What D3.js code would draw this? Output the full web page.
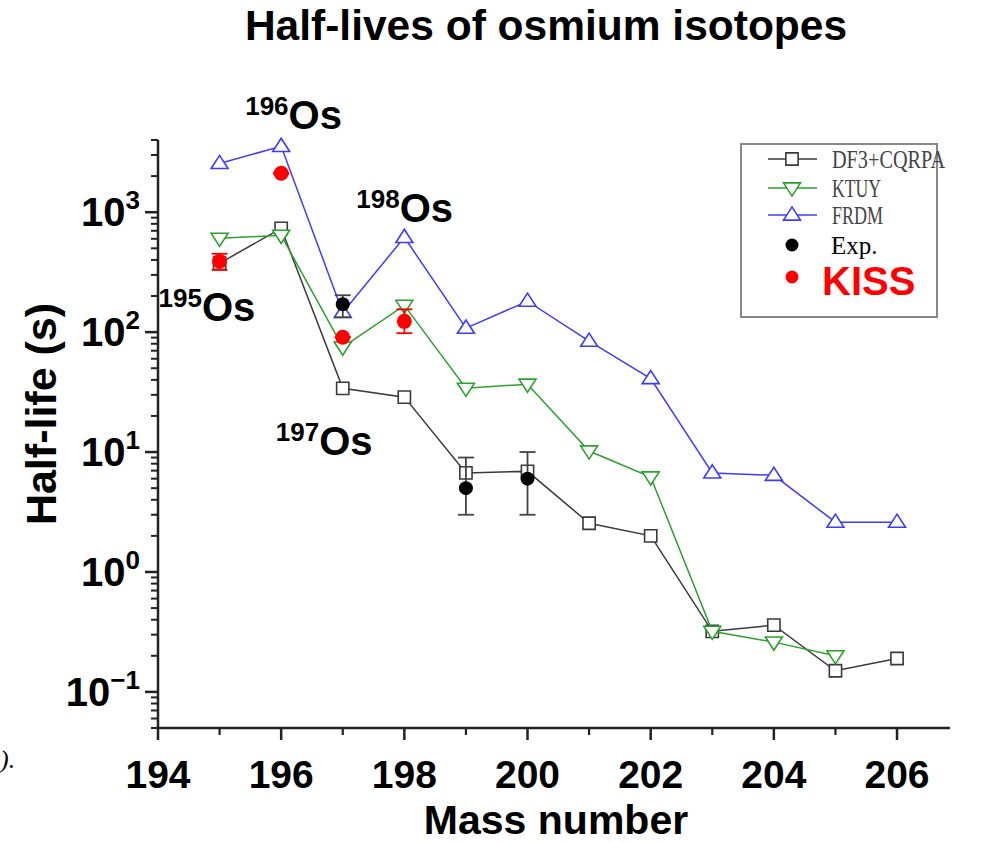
<!DOCTYPE html>
<html>
<head>
<meta charset="utf-8">
<script src="https://cdn.jsdelivr.net/npm/d3@7"></script>
<style>
  html, body { margin: 0; padding: 0; background: #fff; }
  svg { font-family: "Liberation Sans", Arial, sans-serif; }
</style>
</head>
<body>
<svg id="chart" width="983" height="843"></svg>
<script>
// Half-lives of osmium isotopes: model predictions vs. measurements
const massNumbers = [195, 196, 197, 198, 199, 200, 201, 202, 203, 204, 205, 206];

const df3Mass   = [195, 196, 197, 198, 199, 200, 201, 202, 203, 204, 205, 206];
const df3Values = [375, 734, 34, 28.7, 6.7, 6.9, 2.55, 2.0, 0.32, 0.36, 0.15, 0.19];

const ktuyMass   = [195, 196, 197, 198, 199, 200, 201, 202, 203, 204, 205];
const ktuyValues = [606, 641, 75, 167, 34, 36.8, 10.2, 6.2, 0.32, 0.26, 0.2];

const frdmMass   = [195, 196, 197, 198, 199, 200, 201, 202, 203, 204, 205, 206];
const frdmValues = [2550, 3540, 146, 617, 108, 181, 84, 41, 6.7, 6.4, 2.6, 2.6];

const expMass   = [197, 199, 200];
const expValues = [171, 5.0, 6.0];
const expLow    = [133, 3.0, 3.0];
const expHigh   = [203, 9.0, 10.0];

const kissMass   = [195, 196, 197, 198];
const kissValues = [390, 2110, 90.6, 123];
const kissLow    = [330, 2080, 90.6, 98];
const kissHigh   = [450, 2140, 90.6, 155];

const xTicks = [194, 196, 198, 200, 202, 204, 206];
const xMinorTicks = [195, 197, 199, 201, 203, 205];
const yDecades = [0.1, 1, 10, 100, 1000];
const yExponents = ["\u22121", "0", "1", "2", "3"];

const isotopeLabels = [
  { mass: "196", name: "Os", x: 196, v: 3540 },
  { mass: "198", name: "Os", x: 198, v: 617 },
  { mass: "195", name: "Os", x: 195, v: 375 },
  { mass: "197", name: "Os", x: 197, v: 34 }
];

const legendNames = ["DF3+CQRPA", "KTUY", "FRDM", "Exp.", "KISS"];

const svg = d3.select("#chart");

const x = d3.scaleLinear().domain([194, 206.86]).range([158, 950]);
const y = d3.scaleLog().domain([0.05, 4000]).range([728, 140]);

const BLACK = "#3a3a3a", GREEN = "#2ea02e", BLUE = "#3c3cff", RED = "#ff0000";

// ---- axes ----
const axisG = svg.append("g");
axisG.append("line").attr("x1", x(194)).attr("x2", x(194)).attr("y1", y(4000)).attr("y2", y(0.05))
  .attr("stroke", "#222").attr("stroke-width", 2.5);
axisG.append("line").attr("x1", x(194) - 1).attr("x2", x.range()[1]).attr("y1", y(0.05)).attr("y2", y(0.05))
  .attr("stroke", "#222").attr("stroke-width", 2.5);

// x ticks (outward)
xTicks.forEach(t => {
  axisG.append("line").attr("x1", x(t)).attr("x2", x(t)).attr("y1", y(0.05)).attr("y2", y(0.05) + 12)
    .attr("stroke", "#222").attr("stroke-width", 2.5);
  axisG.append("text").attr("x", x(t)).attr("y", y(0.05) + 60).attr("text-anchor", "middle")
    .attr("font-size", 39).attr("font-weight", "bold").attr("fill", "#000").text(t);
});
xMinorTicks.forEach(t => {
  axisG.append("line").attr("x1", x(t)).attr("x2", x(t)).attr("y1", y(0.05)).attr("y2", y(0.05) + 7)
    .attr("stroke", "#222").attr("stroke-width", 2.2);
});

// y ticks (outward), majors at decades and minors at 2..9
const yMinor = [];
[0.01, 0.1, 1, 10, 100, 1000].forEach(d => {
  for (let k = 2; k <= 9; k++) {
    const v = d * k;
    if (v >= 0.05 && v <= 4000) yMinor.push(v);
  }
});
yMinor.forEach(v => {
  axisG.append("line").attr("x1", x(194) - 7).attr("x2", x(194)).attr("y1", y(v)).attr("y2", y(v))
    .attr("stroke", "#222").attr("stroke-width", 2);
});
yDecades.forEach((v, i) => {
  axisG.append("line").attr("x1", x(194) - 13).attr("x2", x(194)).attr("y1", y(v)).attr("y2", y(v))
    .attr("stroke", "#222").attr("stroke-width", 2.5);
  const t = axisG.append("text").attr("x", x(194) - 18).attr("y", y(v) + 14).attr("text-anchor", "end")
    .attr("font-weight", "bold").attr("fill", "#000");
  t.append("tspan").attr("font-size", 40).text("10");
  t.append("tspan").attr("font-size", 26).attr("dy", -17).text(yExponents[i]);
});

// axis titles and chart title
svg.append("text").attr("x", 546).attr("y", 40).attr("text-anchor", "middle")
  .attr("font-size", 42.5).attr("font-weight", "bold").attr("fill", "#000").text("Half-lives of osmium isotopes");
svg.append("text").attr("transform", "translate(56,414) rotate(-90)").attr("text-anchor", "middle")
  .attr("font-size", 43).attr("font-weight", "bold").attr("fill", "#000").text("Half-life (s)");
svg.append("text").attr("x", 556).attr("y", 834).attr("text-anchor", "middle")
  .attr("font-size", 41).attr("font-weight", "bold").attr("fill", "#000").text("Mass number");

// fragment of a caption at the left edge
svg.append("text").attr("x", 0).attr("y", 768).attr("font-family", "'Liberation Serif', serif")
  .attr("font-style", "italic").attr("font-size", 26).attr("fill", "#000").text(").");

// ---- symbols ----
const sym = {
  square: d3.symbol().type(d3.symbolSquare).size(150),
  down: (s) => { const r = s; return `M${-r},${-r * 0.6}L${r},${-r * 0.6}L0,${r * 0.95}Z`; },
  up: (s) => { const r = s; return `M${-r},${r * 0.6}L${r},${r * 0.6}L0,${-r * 0.95}Z`; }
};

const line = d3.line().x(d => x(d[0])).y(d => y(d[1]));
const plot = svg.append("g");

function series(mass, values, color, shape) {
  const pts = mass.map((m, i) => [m, values[i]]);
  plot.append("path").attr("d", line(pts)).attr("fill", "none").attr("stroke", color).attr("stroke-width", 1.5);
  plot.selectAll(null).data(pts).enter().append("path")
    .attr("transform", d => `translate(${x(d[0])},${y(d[1])})`)
    .attr("d", shape === "square" ? sym.square() : sym[shape](8.5))
    .attr("fill", "#fff").attr("stroke", color).attr("stroke-width", 1.6);
}

series(df3Mass, df3Values, BLACK, "square");
series(ktuyMass, ktuyValues, GREEN, "down");
series(frdmMass, frdmValues, BLUE, "up");

function points(mass, values, low, high, color, barColor, r) {
  mass.forEach((m, i) => {
    const g = plot.append("g");
    const cx = x(m);
    g.append("line").attr("x1", cx).attr("x2", cx).attr("y1", y(high[i])).attr("y2", y(low[i]))
      .attr("stroke", barColor).attr("stroke-width", 1.8);
    [low[i], high[i]].forEach(v => {
      g.append("line").attr("x1", cx - 8).attr("x2", cx + 8).attr("y1", y(v)).attr("y2", y(v))
        .attr("stroke", barColor).attr("stroke-width", 1.8);
    });
    g.append("circle").attr("cx", cx).attr("cy", y(values[i])).attr("r", r).attr("fill", color);
  });
}

points(expMass, expValues, expLow, expHigh, "#000", "#444", 7);
points(kissMass, kissValues, kissLow, kissHigh, RED, RED, 7.5);

// isotope annotations
const annPos = [
  { dx: -36, dy: -17 },
  { dx: -48, dy: -15 },
  { dx: -61, dy: 58 },
  { dx: -67, dy: 67 }
];
isotopeLabels.forEach((d, i) => {
  const t = svg.append("text").attr("x", x(d.x) + annPos[i].dx).attr("y", y(d.v) + annPos[i].dy)
    .attr("font-weight", "bold").attr("fill", "#000");
  t.append("tspan").attr("font-size", 26).attr("dy", -14).text(d.mass);
  t.append("tspan").attr("font-size", 40).attr("dy", 14).text(d.name);
});

// ---- legend ----
const lg = svg.append("g");
lg.append("rect").attr("x", 741).attr("y", 144).attr("width", 196).attr("height", 173)
  .attr("fill", "#fff").attr("stroke", "#888").attr("stroke-width", 2);
const rowsY = [159, 188, 215, 245, 277];
const lineColors = [BLACK, GREEN, BLUE];
const shapes = ["square", "down", "up"];
for (let i = 0; i < 3; i++) {
  lg.append("line").attr("x1", 768).attr("x2", 817).attr("y1", rowsY[i]).attr("y2", rowsY[i])
    .attr("stroke", lineColors[i]).attr("stroke-width", 1.5);
  lg.append("path").attr("transform", `translate(792,${rowsY[i]})`)
    .attr("d", shapes[i] === "square" ? sym.square() : sym[shapes[i]](8.5))
    .attr("fill", "#fff").attr("stroke", lineColors[i]).attr("stroke-width", 1.6);
}
lg.append("circle").attr("cx", 792).attr("cy", rowsY[3]).attr("r", 6.5).attr("fill", "#000");
lg.append("circle").attr("cx", 792).attr("cy", rowsY[4]).attr("r", 6.5).attr("fill", RED);

const legendTextW = [113, 49, 51];
for (let i = 0; i < 3; i++) {
  lg.append("text").attr("x", 832).attr("y", rowsY[i] + 9).attr("font-family", "'Liberation Serif', serif")
    .attr("font-size", 25).attr("fill", "#444")
    .attr("textLength", legendTextW[i]).attr("lengthAdjust", "spacingAndGlyphs").text(legendNames[i]);
}
lg.append("text").attr("x", 831).attr("y", rowsY[3] + 9).attr("font-family", "'Liberation Serif', serif")
  .attr("font-size", 25).attr("fill", "#000").text(legendNames[3]);
lg.append("text").attr("x", 822).attr("y", rowsY[4] + 18).attr("font-size", 40).attr("font-weight", "bold")
  .attr("fill", RED).text(legendNames[4]);
</script>
</body>
</html>
